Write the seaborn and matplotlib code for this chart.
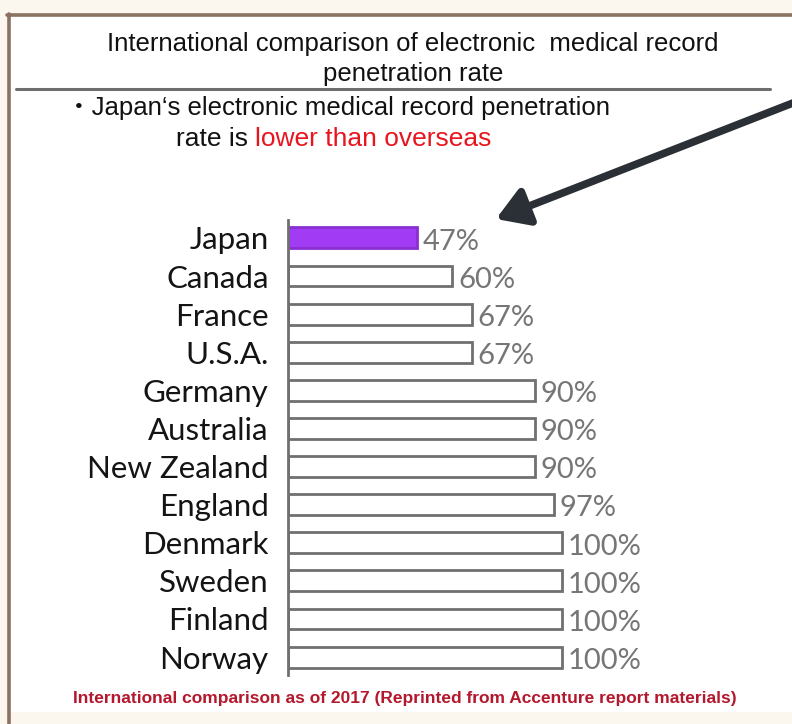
import matplotlib
matplotlib.use("Agg")
import matplotlib.pyplot as plt
import seaborn as sns
import pandas as pd
from matplotlib.lines import Line2D
from matplotlib.patches import Rectangle

# Electronic medical record penetration rate by country (2017)
countries = ["Japan", "Canada", "France", "U.S.A.", "Germany", "Australia",
             "New Zealand", "England", "Denmark", "Sweden", "Finland", "Norway"]
rates = [47, 60, 67, 67, 90, 90, 90, 97, 100, 100, 100, 100]
labels = ["47%", "60%", "67%", "67%", "90%", "90%", "90%", "97%",
          "100%", "100%", "100%", "100%"]
highlight = "Japan"

title_lines = "International comparison of electronic  medical record\npenetration rate"
note_lead = "\u30fbJapan\u2018s electronic medical record penetration"
note_rate = "rate is "
note_red = "lower than overseas"
footer = "International comparison as of 2017 (Reprinted from Accenture report materials)"

sns.set_theme(style="white")
plt.rcParams["font.family"] = ["Liberation Sans", "Noto Sans CJK JP", "DejaVu Sans"]

W, H = 792, 724
fig = plt.figure(figsize=(W / 100, H / 100), dpi=100, facecolor="#fbf6ee")


def fx(px):
    return px / W


def fy(py):
    return 1 - py / H


# white panel with brown frame on the left and top
fig.patches.append(Rectangle((fx(8), fy(712)), fx(800) - fx(8), fy(14) - fy(712),
                             transform=fig.transFigure, facecolor="white",
                             edgecolor="none", zorder=-5))
fig.lines.append(Line2D([fx(8.5), fx(8.5)], [fy(14), fy(724)], transform=fig.transFigure,
                        color="#8a7262", lw=2.6, zorder=-4))
fig.lines.append(Line2D([fx(7), fx(792)], [fy(14.5), fy(14.5)], transform=fig.transFigure,
                        color="#8a7262", lw=2.6, zorder=-4))
# rule under the heading
fig.lines.append(Line2D([fx(16), fx(770)], [fy(89), fy(89)], transform=fig.transFigure,
                        color="#6e6e6e", lw=2.2, zorder=-4))

fig.text(fx(413), fy(59), title_lines, ha="center", va="center", fontsize=18.5,
         color="#111111", linespacing=1.3)

fig.text(fx(66), fy(108), note_lead, ha="left", va="center", fontsize=18.5,
         color="#111111")
t2 = fig.text(fx(176), fy(139), note_rate, ha="left", va="center", fontsize=19,
              color="#111111")

df = pd.DataFrame({"country": countries, "rate": rates})
ax = fig.add_axes([fx(288), fy(675), fx(699) - fx(288), fy(220) - fy(675)])
ax.set_facecolor("none")
palette = {c: ("#a23cf4" if c == highlight else "white") for c in countries}
sns.barplot(data=df, x="rate", y="country", hue="country", palette=palette,
            order=countries, orient="h", width=0.55, legend=False, ax=ax,
            saturation=1, edgecolor="#707070", linewidth=2)
for bar, c in zip(ax.patches, countries):
    if c == highlight:
        bar.set_edgecolor("#8a2fd0")

for i, (v, lab) in enumerate(zip(rates, labels)):
    ax.text(v + 2.0, i + 0.1, lab, ha="left", va="center", fontsize=21,
            color="#767676", family=["Lato", "DejaVu Sans"])

ax.set_xlim(0, 150)
ax.set_ylim(len(countries) - 0.53, -0.47)
ax.set_xlabel("")
ax.set_ylabel("")
ax.set_xticks([])
for s in ["top", "right", "bottom"]:
    ax.spines[s].set_visible(False)
ax.spines["left"].set_color("#707070")
ax.spines["left"].set_linewidth(2)
ax.tick_params(axis="y", length=0, pad=14)
ax.set_yticks(range(len(countries)), countries)
for tl in ax.get_yticklabels():
    tl.set_fontfamily(["Lato", "DejaVu Sans"])
    tl.set_fontsize(22.5)
    tl.set_color("#141414")

# red emphasis placed right after "rate is "
ax.annotate(note_red, xy=(1, 0.5), xycoords=t2, xytext=(0, 0),
            textcoords="offset points", ha="left", va="center", fontsize=19,
            color="#e8141e", annotation_clip=False)

# pointer to the Japan bar
ax.annotate("", xy=(fx(496), fy(219)), xycoords="figure fraction",
            xytext=(fx(798), fy(101)), textcoords="figure fraction",
            arrowprops=dict(arrowstyle="-|>,head_length=1.05,head_width=0.65",
                            color="#2b3036", lw=5.5, mutation_scale=18,
                            shrinkA=0, shrinkB=0),
            annotation_clip=False)

fig.text(fx(405), fy(698), footer, ha="center", va="center", fontsize=12.5,
         fontweight="bold", color="#b3182d")

fig.savefig("out.png", dpi=100, facecolor=fig.get_facecolor())
